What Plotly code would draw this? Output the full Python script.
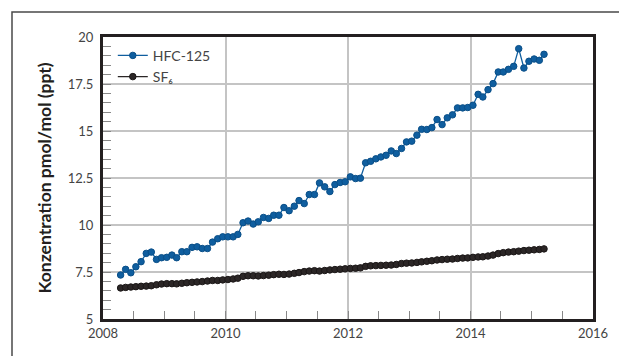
import pandas as pd
import plotly.graph_objects as go

# Monthly dates (Apr 2008 - Mar 2015), mid-month
months = pd.date_range("2008-04-01", periods=84, freq="MS") + pd.Timedelta(days=14)
months = [d.strftime("%Y-%m-%d") for d in months]

hfc125 = [7.34, 7.64, 7.46, 7.78, 8.05, 8.49, 8.56, 8.17, 8.26,
          8.28, 8.40, 8.26, 8.58, 8.58, 8.81, 8.84, 8.75, 8.75, 9.09, 9.27, 9.37,
          9.37, 9.37, 9.50, 10.12, 10.21, 10.05, 10.17, 10.40, 10.35, 10.52, 10.52, 10.93,
          10.76, 11.00, 11.30, 11.14, 11.62, 11.62, 12.24, 12.03, 11.78, 12.15, 12.26, 12.30,
          12.56, 12.47, 12.49, 13.31, 13.39, 13.52, 13.62, 13.71, 13.94, 13.80, 14.07, 14.42,
          14.46, 14.78, 15.09, 15.08, 15.18, 15.61, 15.34, 15.70, 15.86, 16.23, 16.23, 16.25,
          16.37, 16.95, 16.81, 17.20, 17.52, 18.14, 18.14, 18.28, 18.44, 19.38, 18.35, 18.71,
          18.83, 18.76, 19.08]

sf6 = [6.65, 6.68, 6.70, 6.72, 6.74, 6.75, 6.77, 6.82, 6.86,
       6.88, 6.88, 6.87, 6.90, 6.93, 6.95, 6.97, 6.99, 7.02, 7.05, 7.05, 7.08,
       7.10, 7.13, 7.17, 7.27, 7.30, 7.30, 7.29, 7.31, 7.33, 7.36, 7.38, 7.37,
       7.39, 7.43, 7.47, 7.52, 7.55, 7.57, 7.55, 7.58, 7.61, 7.63, 7.65, 7.67,
       7.69, 7.70, 7.72, 7.80, 7.83, 7.84, 7.85, 7.86, 7.87, 7.90, 7.95, 7.97,
       7.98, 8.01, 8.04, 8.07, 8.10, 8.14, 8.16, 8.18, 8.19, 8.22, 8.24, 8.25,
       8.28, 8.30, 8.31, 8.35, 8.40, 8.48, 8.53, 8.56, 8.58, 8.61, 8.64, 8.66,
       8.68, 8.70, 8.73]

series_names = ["HFC-125", "SF₆"]
y_title = "Konzentration pmol/mol (ppt)"

BLUE = "#0f5e9f"
DARK = "#2b2626"

fig = go.Figure()
fig.add_trace(go.Scatter(x=months, y=hfc125, name=series_names[0], mode="lines+markers",
                         line=dict(color=BLUE, width=1.3),
                         marker=dict(color=BLUE, size=6.5, line=dict(color="#0a4f88", width=1))))
fig.add_trace(go.Scatter(x=months, y=sf6, name=series_names[1], mode="lines+markers",
                         line=dict(color=DARK, width=1.3),
                         marker=dict(color=DARK, size=6.5, line=dict(color="#1a1616", width=1))))

L, R, T, B = 103, 26, 37, 37
W, H = 619, 356
pw, ph = W - L - R, H - T - B

def px_x(x):
    return (x - L) / pw

def px_y(y):
    return (H - B - y) / ph

fig.add_shape(type="path", xref="paper", yref="paper",
              path=f"M {px_x(12)},{px_y(362)} L {px_x(12)},{px_y(12)} L {px_x(625)},{px_y(12)}",
              line=dict(color="#4a4a4a", width=1.5))

font_fam = "Lato, 'Open Sans', sans-serif"
axis_common = dict(showline=True, linewidth=3, linecolor="#231f20", mirror=True,
                   showgrid=True, gridcolor="#c4c4c4", gridwidth=1.5,
                   ticks="inside", ticklen=8, tickwidth=1, tickcolor="#888",
                   tickfont=dict(family=font_fam, size=13, color="#444"), zeroline=False)

fig.update_xaxes(type="date", range=["2008-01-01", "2016-01-01"], dtick="M24",
                 tick0="2008-01-01", tickformat="%Y",
                 minor=dict(dtick="M6", ticks="inside", ticklen=8, tickcolor="#888", showgrid=False),
                 **axis_common)
fig.update_yaxes(range=[5, 20], dtick=2.5, tick0=5,
                 minor=dict(dtick=0.5, ticks="inside", ticklen=8, tickcolor="#888", showgrid=False),
                 title=dict(text=f"<b>{y_title}</b>", font=dict(family=font_fam, size=17.5, color="#231f20"),
                            standoff=12),
                 ticklabelstandoff=4,
                 **axis_common)

fig.update_layout(width=W, height=H, margin=dict(l=L, r=R, t=T, b=B),
                  paper_bgcolor="white", plot_bgcolor="white",
                  legend=dict(x=0.02, y=0.99, xanchor="left", yanchor="top",
                              font=dict(family=font_fam, size=14, color="#444"),
                              bgcolor="rgba(0,0,0,0)", tracegroupgap=0, itemwidth=30),
                  showlegend=True)

fig.write_html("out.html")
